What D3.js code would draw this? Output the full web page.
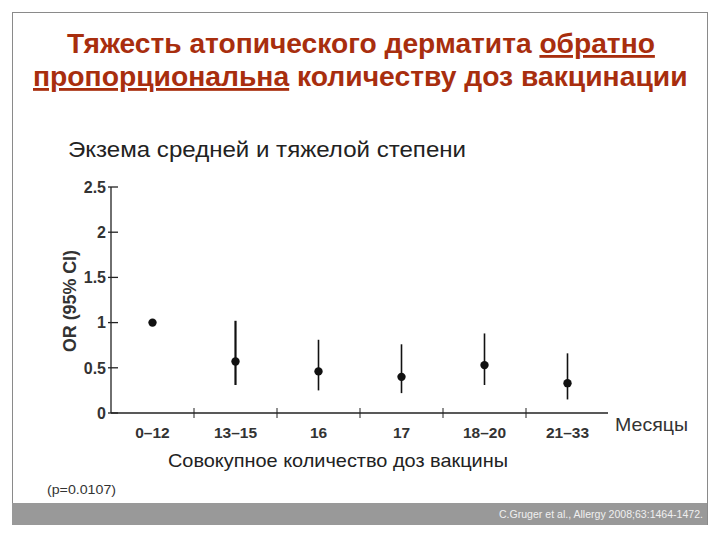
<!DOCTYPE html>
<html>
<head>
<meta charset="utf-8">
<script src="https://cdn.jsdelivr.net/npm/d3@7"></script>
<style>
  body { margin: 0; background: #fff; }
  svg { display: block; font-family: "Liberation Sans", Arial, sans-serif; }
</style>
</head>
<body>
<div id="chart"></div>
<script>
// dose groups (months) and odds ratios with 95% CI
const groups = ["0–12", "13–15", "16", "17", "18–20", "21–33"];
const orValues = [1.0, 0.57, 0.46, 0.40, 0.53, 0.33];
const ciLow = [null, 0.31, 0.25, 0.22, 0.31, 0.15];
const ciHigh = [null, 1.02, 0.81, 0.76, 0.88, 0.66];
const yTicks = [0, 0.5, 1, 1.5, 2, 2.5];

const width = 720, height = 540;
const titleColor = "#a82e0e";

const svg = d3.select("#chart").append("svg")
    .attr("width", width)
    .attr("height", height);

// slide frame
svg.append("rect")
    .attr("x", 12.5).attr("y", 12.5)
    .attr("width", 695).attr("height", 512)
    .attr("fill", "#fff")
    .attr("stroke", "#8a8a8a")
    .attr("stroke-width", 1);

svg.append("rect")
    .attr("x", 12).attr("y", 503)
    .attr("width", 695).attr("height", 22)
    .attr("fill", "#999");

svg.append("text")
    .attr("x", 703).attr("y", 518)
    .attr("text-anchor", "end")
    .attr("font-size", 10)
    .attr("fill", "#f0f0f0")
    .attr("textLength", 204)
    .attr("lengthAdjust", "spacingAndGlyphs")
    .text("C.Gruger et al., Allergy 2008;63:1464-1472.");

// title (two lines, partly underlined) - font size fitted to the line width
const titleLines = [
    { x: 67, y: 53, len: 588, parts: [["Тяжесть атопического дерматита ", false], ["обратно", true]] },
    { x: 33, y: 86, len: 655, parts: [["пропорциональна", true], [" количеству доз вакцинации", false]] }
];
titleLines.forEach(l => {
    const t = svg.append("text")
        .attr("x", l.x).attr("y", l.y)
        .attr("font-family", "'Liberation Sans Narrow', 'Liberation Sans', Arial, sans-serif")
        .attr("font-weight", "bold")
        .attr("font-size", 29)
        .attr("fill", titleColor);
    l.parts.forEach(p => {
        t.append("tspan")
            .attr("text-decoration", p[1] ? "underline" : null)
            .text(p[0]);
    });
    const w = t.node().getComputedTextLength();
    t.attr("font-size", 29 * l.len / w);
});

svg.append("text")
    .attr("x", 68).attr("y", 157)
    .attr("font-size", 22)
    .attr("fill", "#222")
    .attr("textLength", 398)
    .attr("lengthAdjust", "spacingAndGlyphs")
    .text("Экзема средней и тяжелой степени");

// plot
const x = d3.scaleBand().domain(groups).range([111, 609]);
const y = d3.scaleLinear().domain([0, 2.5]).range([413, 187]);

const g = svg.append("g");

// y axis
g.append("line")
    .attr("x1", 111).attr("x2", 111)
    .attr("y1", y(2.5)).attr("y2", y(0))
    .attr("stroke", "#222").attr("stroke-width", 1.3);

g.selectAll(".ytick")
    .data(yTicks)
    .enter()
    .append("line")
    .attr("x1", 108).attr("x2", 118)
    .attr("y1", d => y(d)).attr("y2", d => y(d))
    .attr("stroke", "#222").attr("stroke-width", 1.3);

g.selectAll(".ylab")
    .data(yTicks)
    .enter()
    .append("text")
    .attr("x", 106)
    .attr("y", d => y(d))
    .attr("dy", "0.36em")
    .attr("text-anchor", "end")
    .attr("font-size", 16)
    .attr("font-weight", "bold")
    .attr("fill", "#333")
    .text(d => d);

g.append("text")
    .attr("transform", "translate(76," + 301 + ") rotate(-90)")
    .attr("text-anchor", "middle")
    .attr("font-size", 18)
    .attr("font-weight", "bold")
    .attr("fill", "#333")
    .attr("textLength", 102)
    .attr("lengthAdjust", "spacingAndGlyphs")
    .text("OR (95% CI)");

// x axis
g.append("line")
    .attr("x1", 111).attr("x2", 608)
    .attr("y1", y(0)).attr("y2", y(0))
    .attr("stroke", "#222").attr("stroke-width", 1.3);

g.selectAll(".xtick")
    .data(groups.slice(1))
    .enter()
    .append("line")
    .attr("x1", d => x(d)).attr("x2", d => x(d))
    .attr("y1", y(0) - 5).attr("y2", y(0) + 5)
    .attr("stroke", "#222").attr("stroke-width", 1);

g.selectAll(".xlab")
    .data(groups)
    .enter()
    .append("text")
    .attr("x", d => x(d) + x.bandwidth() / 2)
    .attr("y", 438)
    .attr("text-anchor", "middle")
    .attr("font-size", 15.5)
    .attr("font-weight", "bold")
    .attr("fill", "#333")
    .text(d => d);

svg.append("text")
    .attr("x", 615).attr("y", 431)
    .attr("font-size", 19)
    .attr("fill", "#333")
    .attr("textLength", 73)
    .attr("lengthAdjust", "spacingAndGlyphs")
    .text("Месяцы");

svg.append("text")
    .attr("x", 168).attr("y", 467)
    .attr("font-size", 18.5)
    .attr("fill", "#222")
    .attr("textLength", 340)
    .attr("lengthAdjust", "spacingAndGlyphs")
    .text("Совокупное количество доз вакцины");

svg.append("text")
    .attr("x", 47).attr("y", 494)
    .attr("font-size", 13)
    .attr("fill", "#333")
    .attr("textLength", 69)
    .attr("lengthAdjust", "spacingAndGlyphs")
    .text("(p=0.0107)");

// error bars
const pts = groups.map((k, i) => ({ k, v: orValues[i], lo: ciLow[i], hi: ciHigh[i] }));

g.selectAll(".ci")
    .data(pts.filter(d => d.lo !== null))
    .enter()
    .append("line")
    .attr("x1", d => x(d.k) + x.bandwidth() / 2)
    .attr("x2", d => x(d.k) + x.bandwidth() / 2)
    .attr("y1", d => y(d.hi))
    .attr("y2", d => y(d.lo))
    .attr("stroke", "#111")
    .attr("stroke-width", (d, i) => i === 0 ? 2.2 : 1.6);

g.selectAll(".pt")
    .data(pts)
    .enter()
    .append("path")
    .attr("transform", d => "translate(" + (x(d.k) + x.bandwidth() / 2) + "," + y(d.v) + ")")
    .attr("d", d3.symbol(d3.symbolCircle, 55))
    .attr("fill", "#111");
</script>
</body>
</html>
